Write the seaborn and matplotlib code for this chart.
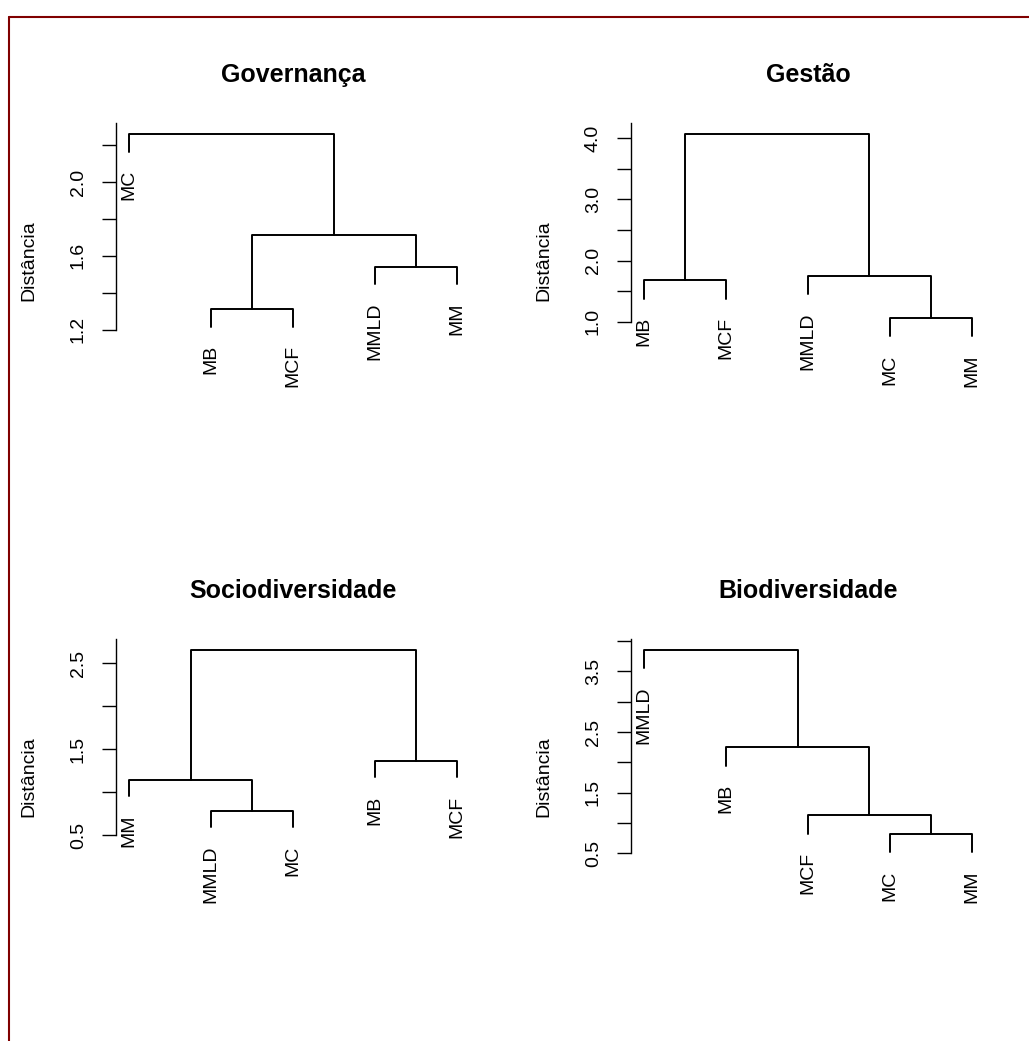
import numpy as np
import pandas as pd
import matplotlib
matplotlib.use("Agg")
import matplotlib.pyplot as plt
from matplotlib.lines import Line2D
import seaborn as sns

# leaves in plotting order, merges in R hclust style (-k = leaf k, +k = merge k)
gov_labels = ["MC", "MB", "MCF", "MMLD", "MM"]
gov_merge = [(-2, -3), (-4, -5), (1, 2), (-1, 3)]
gov_height = [1.31, 1.54, 1.715, 2.26]
gov_ticks = [1.2, 1.4, 1.6, 1.8, 2.0, 2.2]
gov_ticklabels = ["1.2", "", "1.6", "", "2.0", ""]

ges_labels = ["MB", "MCF", "MMLD", "MC", "MM"]
ges_merge = [(-4, -5), (-1, -2), (-3, 1), (2, 3)]
ges_height = [1.06, 1.68, 1.75, 4.07]
ges_ticks = [1.0, 1.5, 2.0, 2.5, 3.0, 3.5, 4.0]
ges_ticklabels = ["1.0", "", "2.0", "", "3.0", "", "4.0"]

soc_labels = ["MM", "MMLD", "MC", "MB", "MCF"]
soc_merge = [(-2, -3), (-1, 1), (-4, -5), (2, 3)]
soc_height = [0.78, 1.14, 1.36, 2.65]
soc_ticks = [0.5, 1.0, 1.5, 2.0, 2.5]
soc_ticklabels = ["0.5", "", "1.5", "", "2.5"]

bio_labels = ["MMLD", "MB", "MCF", "MC", "MM"]
bio_merge = [(-4, -5), (-3, 1), (-2, 2), (-1, 3)]
bio_height = [0.82, 1.13, 2.25, 3.85]
bio_ticks = [0.5, 1.0, 1.5, 2.0, 2.5, 3.0, 3.5, 4.0]
bio_ticklabels = ["0.5", "", "1.5", "", "2.5", "", "3.5", ""]

panels = [
    ("Governança", gov_labels, gov_merge, gov_height, gov_ticks, gov_ticklabels),
    ("Gestão", ges_labels, ges_merge, ges_height, ges_ticks, ges_ticklabels),
    ("Sociodiversidade", soc_labels, soc_merge, soc_height, soc_ticks, soc_ticklabels),
    ("Biodiversidade", bio_labels, bio_merge, bio_height, bio_ticks, bio_ticklabels),
]

sns.set_style("white")
plt.rcParams["font.family"] = ["Liberation Sans", "DejaVu Sans"]
plt.rcParams["text.color"] = "black"
plt.rcParams["axes.labelcolor"] = "black"
plt.rcParams["axes.titlecolor"] = "black"

W, H = 1029, 1041
DPI = 100
fig = plt.figure(figsize=(W / DPI, H / DPI), dpi=DPI)

# plot regions in pixels (left, top) ; all the same size
ax_w, ax_h = 354, 275
origins = [(116, 123), (631, 123), (116, 639), (631, 639)]
label_gap_pt = 13
hang = 0.1


def dendro_segments(merge, height, n):
    """Return U-shaped segments and leaf end heights, R plot.hclust style."""
    hang_len = hang * (max(height) - min(height))
    node_x, node_y = {}, {}
    leaf_end = {}
    segs = []
    for k, (a, b) in enumerate(merge, start=1):
        h = height[k - 1]
        pts = []
        for c in (a, b):
            if c < 0:
                x = -c
                y0 = h - hang_len
                leaf_end[x] = y0
            else:
                x, y0 = node_x[c], node_y[c]
            pts.append((x, y0))
        node_x[k] = (pts[0][0] + pts[1][0]) / 2
        node_y[k] = h
        segs.append([pts[0], (pts[0][0], h), (pts[1][0], h), pts[1]])
    return segs, leaf_end


fig.canvas.draw()
renderer = fig.canvas.get_renderer()

for i, (title, labels, merge, height, ticks, ticklabels) in enumerate(panels):
    px, py = origins[i]
    ax = fig.add_axes([px / W, 1 - (py + ax_h) / H, ax_w / W, ax_h / H])
    n = len(labels)
    segs, leaf_end = dendro_segments(merge, height, n)

    rows = []
    for s_id, seg in enumerate(segs):
        for x, y in seg:
            rows.append({"seg": s_id, "x": x, "y": y})
    df = pd.DataFrame(rows)
    sns.lineplot(data=df, x="x", y="y", units="seg", estimator=None, sort=False,
                 color="black", linewidth=1.4, ax=ax, legend=False)

    txts = []
    for j, lab in enumerate(labels, start=1):
        t = ax.annotate(lab, xy=(j, leaf_end[j]), xytext=(0, -label_gap_pt),
                        textcoords="offset points", rotation=90, ha="center",
                        va="top", fontsize=14, color="black")
        txts.append((j, t))

    # y range as R's dendrogram window: labels must fit in the plot region
    gap_px = label_gap_pt * DPI / 72
    ymax = max(height)
    scale = np.inf
    for j, t in txts:
        L = t.get_window_extent(renderer).height
        d = ymax - leaf_end[j]
        if d > 0:
            scale = min(scale, (0.92 * ax_h - gap_px - L) / d)
    hi = ymax + 0.04 * ax_h / scale
    lo = hi - ax_h / scale
    if ticks[-1] > hi and ticks[-1] - hi < 0.01 * (hi - lo):
        hi = ticks[-1] + 1e-6
    ax.set_ylim(lo, hi)
    ax.set_xlim(0.84, n + 0.16)

    ax.set_yticks(ticks)
    ax.set_yticklabels(ticklabels)
    for tl in ax.get_yticklabels():
        tl.set_rotation(90)
        tl.set_va("center")
    ax.tick_params(axis="y", direction="out", length=10, width=1.0, pad=11,
                   labelsize=14, left=True, color="black", labelcolor="black")
    ax.set_xticks([])
    ax.set_xlabel("")
    for side in ["top", "right", "bottom"]:
        ax.spines[side].set_visible(False)
    ax.spines["left"].set_bounds(ticks[0], min(hi, max(ticks[-1], hi)))
    ax.spines["left"].set_linewidth(1.0)
    ax.spines["left"].set_color("black")
    ax.set_ylabel("Distância", fontsize=14, color="black")
    ax.yaxis.set_label_coords(-0.223, 0.5)
    ax.set_title(title, fontsize=18, fontweight="bold", pad=29.5, color="black")
    ax.patch.set_alpha(0)

# dark red frame (left and top edges)
frame_col = "#800000"
fig.add_artist(Line2D([9 / W, 9 / W], [0, 1 - 17 / H], color=frame_col, lw=1.5,
                      transform=fig.transFigure))
fig.add_artist(Line2D([9 / W, 1], [1 - 17 / H, 1 - 17 / H], color=frame_col, lw=1.5,
                      transform=fig.transFigure))

fig.savefig("out.png", dpi=DPI, facecolor="white")
